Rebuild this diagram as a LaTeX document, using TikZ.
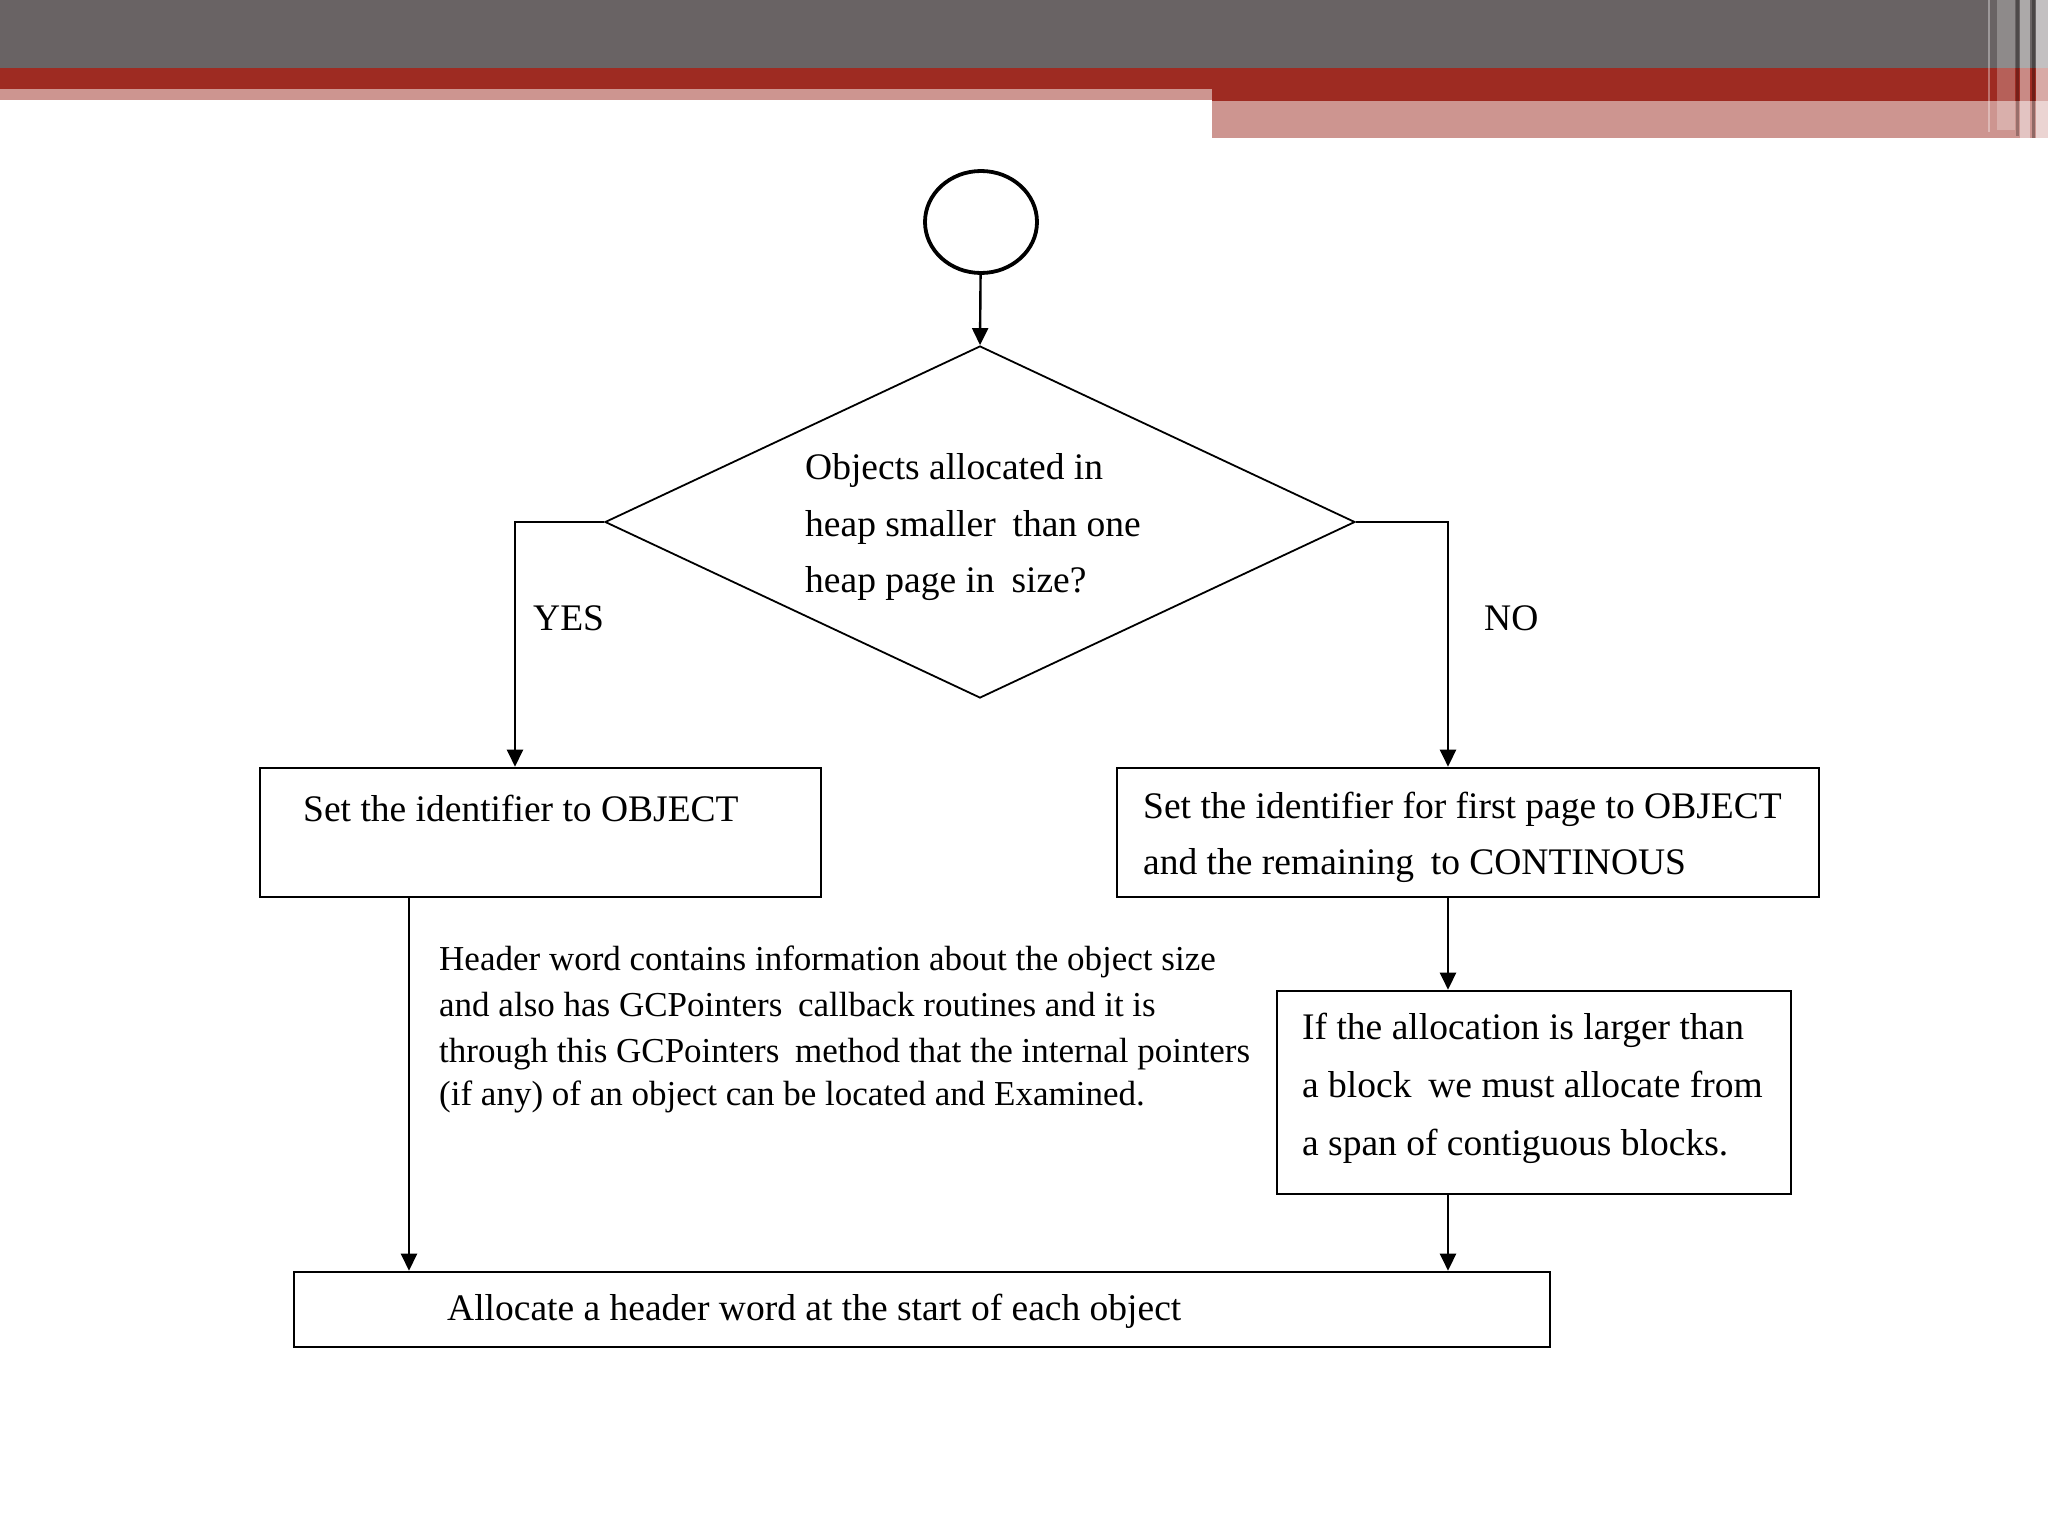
\documentclass[tikz,border=0pt]{standalone}
\usepackage{fontspec}
\setmainfont{Liberation Serif}
\usetikzlibrary{arrows.meta,shapes.geometric}
\definecolor{hdrgray}{HTML}{696364}
\definecolor{hdrred}{HTML}{9E2B22}
\definecolor{hdrpink}{HTML}{CD9590}
\tikzset{
  boxnode/.style={draw,line width=2.6pt,rectangle,inner sep=0pt},
  txt/.style={inner sep=0pt,anchor=base west,font=\fontsize{37.5}{45}\selectfont},
  ftxt/.style={inner sep=0pt,anchor=base west,font=\fontsize{35}{45}\selectfont},
  arr/.style={line width=2.4pt,-{Triangle[width=16pt,length=17pt]}},
  ln/.style={line width=2.4pt}
}
\begin{document}
\begin{tikzpicture}[x=1pt,y=-1pt]
\useasboundingbox (0,0) rectangle (2048,1536);
\fill[white] (0,0) rectangle (2048,1536);
% header
\fill[hdrgray] (0,0) rectangle (2048,68);
\fill[hdrred] (0,68) rectangle (2048,89);
\fill[hdrpink] (0,89) rectangle (1212,100);
\fill[hdrred] (1212,89) rectangle (2048,101);
\fill[hdrpink] (1212,101) rectangle (2048,138);
\fill[white,opacity=0.35] (1988,0) rectangle (1990,132);
\fill[white,opacity=0.25] (1997,0) rectangle (2015,130);
\fill[black,opacity=0.25] (2016,0) rectangle (2019,136);
\fill[white,opacity=0.45] (2020,0) rectangle (2030,138);
\fill[black,opacity=0.3] (2032,0) rectangle (2035,138);
\fill[white,opacity=0.6] (2036,0) rectangle (2048,138);
% shapes
\node[draw,ellipse,line width=3.8pt,minimum width=112pt,minimum height=102pt,inner sep=0pt] (start) at (981,222) {};
\node[draw,diamond,line width=1.8pt,minimum width=750pt,minimum height=352pt,aspect=2.13,inner sep=0pt] (dia) at (980,522) {};
\node[boxnode,minimum width=561pt,minimum height=129pt] (box1) at (540.5,832.5) {};
\node[boxnode,minimum width=702pt,minimum height=129pt] (box2) at (1468,832.5) {};
\node[boxnode,minimum width=514pt,minimum height=203pt] (box3) at (1534,1092.5) {};
\node[boxnode,minimum width=1256pt,minimum height=75pt] (box4) at (922,1309.5) {};
% texts
\node[txt] (d1) at (805,479) {Objects allocated in};
\node[txt] (d2) at (805,536) {heap smaller\hspace{0.2em} than one};
\node[txt] (d3) at (805,592) {heap page in\hspace{0.2em} size?};
\node[txt] (yes) at (533,630) {YES};
\node[txt] (no) at (1484,630) {NO};
\node[txt] (t1) at (303,821) {Set the identifier to OBJECT};
\node[txt] (t2a) at (1143,818) {Set the identifier for first page to OBJECT};
\node[txt] (t2b) at (1143,874) {and the remaining\hspace{0.2em} to CONTINOUS};
\node[txt] (t3a) at (1302,1039) {If the allocation is larger than};
\node[txt] (t3b) at (1302,1097) {a block\hspace{0.2em} we must allocate from};
\node[txt] (t3c) at (1302,1155) {a span of contiguous blocks.};
\node[txt] (t4) at (447,1320) {Allocate a header word at the start of each object};
\node[ftxt] (n1) at (439,970) {Header word contains information about the object size};
\node[ftxt] (n2) at (439,1016) {and also has GCPointers\hspace{0.2em} callback routines and it is};
\node[ftxt] (n3) at (439,1062) {through this GCPointers\hspace{0.2em} method that the internal pointers};
\node[ftxt] (n4) at (439,1105) {(if any) of an object can be located and Examined.};
% connectors
\coordinate (yx) at (515,0);
\coordinate (nx) at (1448,0);
\coordinate (lx) at (409,0);
\draw[arr] (start) -- (dia.north);
\draw[arr] (dia.west) -| (yx |- box1.north);
\draw[arr] (dia.east) -| (nx |- box2.north);
\draw[arr] (nx |- box2.south) -- (nx |- box3.north);
\draw[arr] (nx |- box3.south) -- (nx |- box4.north);
\draw[arr] (lx |- box1.south) -- (lx |- box4.north);
\end{tikzpicture}
\end{document}
